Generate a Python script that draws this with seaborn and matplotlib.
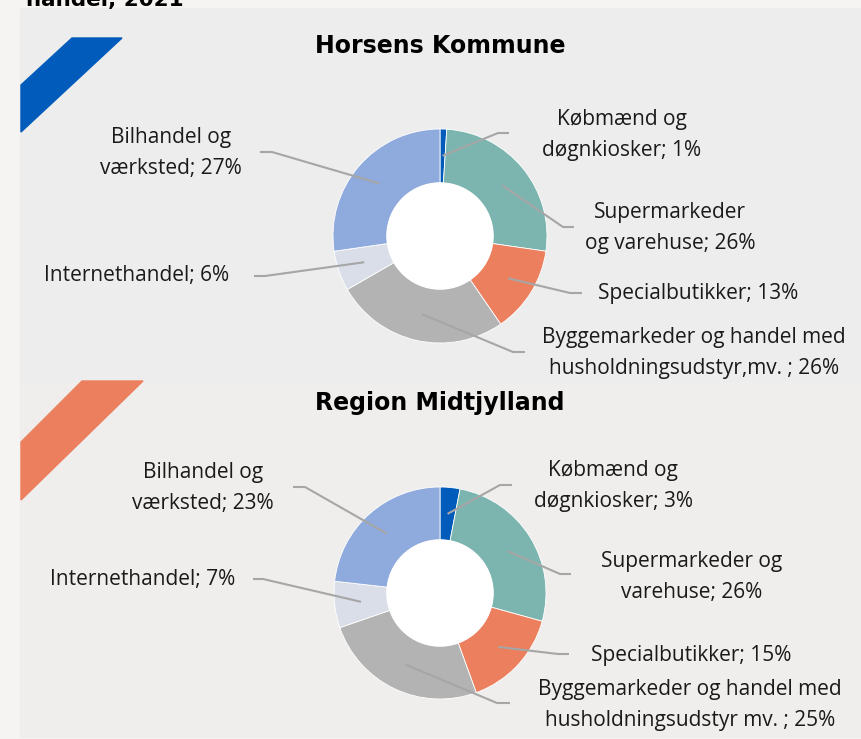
import numpy as np
import matplotlib
matplotlib.use("Agg")
import matplotlib.pyplot as plt
import matplotlib.patches as mpatches
import seaborn as sns

# data
segments = ["Købmænd og døgnkiosker", "Supermarkeder og varehuse", "Specialbutikker",
            "Byggemarkeder og handel med husholdningsudstyr mv.", "Internethandel",
            "Bilhandel og værksted"]
horsens = [1, 26, 13, 26, 6, 27]
region = [3, 26, 15, 25, 7, 23]
horsens_fmt = ["Købmænd og\ndøgnkiosker; {}%", "Supermarkeder\nog varehuse; {}%",
               "Specialbutikker; {}%", "Byggemarkeder og handel med\nhusholdningsudstyr,mv. ; {}%",
               "Internethandel; {}%", "Bilhandel og\nværksted; {}%"]
region_fmt = ["Købmænd og\ndøgnkiosker; {}%", "Supermarkeder og\nvarehuse; {}%",
              "Specialbutikker; {}%", "Byggemarkeder og handel med\nhusholdningsudstyr mv. ; {}%",
              "Internethandel; {}%", "Bilhandel og\nværksted; {}%"]
titles = ["Horsens Kommune", "Region Midtjylland"]

colors = sns.color_palette(["#005bbb", "#7cb5b0", "#eb7f5e", "#b3b3b3", "#d9dee8", "#8faadc"])

# layout in pixels (top-left origin)
W, H = 861, 739
centers = [(440, 236), (440, 593)]
radii = [107, 106]
# label centre, elbow, line end for each slice
horsens_lay = [((622, 135), (498, 133), (509, 133)),
               ((670, 228), (563, 227), (574, 227)),
               ((698, 294), (570, 293), (582, 293)),
               ((694, 353), (513, 352), (525, 352)),
               ((137, 276), (265, 276), (254, 276)),
               ((171, 153), (272, 152), (260, 152))]
region_lay = [((613, 486), (500, 485), (512, 485)),
              ((692, 577), (560, 574), (571, 574)),
              ((691, 655), (558, 654), (569, 654)),
              ((690, 705), (497, 703), (510, 703)),
              ((143, 580), (263, 579), (253, 579)),
              ((203, 488), (305, 487), (293, 487))]

sns.set_theme(style="white")
plt.rcParams['font.family'] = ['Open Sans', 'DejaVu Sans']

fig = plt.figure(figsize=(W / 100, H / 100), dpi=100, facecolor="#f5f4f2")
ax = fig.add_axes([0, 0, 1, 1])
ax.set_facecolor("#f5f4f2")


def Y(y):
    return H - y


# panels and stripes
ax.add_patch(mpatches.Rectangle((20, Y(382)), W - 20, 374, color="#ededed", zorder=0))
ax.add_patch(mpatches.Rectangle((20, Y(737)), W - 20, 355, color="#efeeec", zorder=0))
ax.add_patch(mpatches.Polygon([(21, Y(85)), (72, Y(38)), (122, Y(38)), (21, Y(132))],
                              color="#005bbb", zorder=1))
ax.add_patch(mpatches.Polygon([(21, Y(442)), (82, Y(381)), (143, Y(381)), (21, Y(500))],
                              color="#eb7f5e", zorder=1))

ax.text(26, Y(6), "handel, 2021", fontsize=15.5, fontweight="bold", family="DejaVu Sans",
        ha="left", va="baseline", color="black")

panels = [(horsens, horsens_fmt, horsens_lay), (region, region_fmt, region_lay)]
for i, (vals, fmts, lay) in enumerate(panels):
    cx, cy = centers[i]
    r = radii[i]
    wedges, _ = ax.pie(vals, colors=colors, startangle=90, counterclock=False,
                       center=(cx, Y(cy)), radius=r,
                       wedgeprops=dict(width=r - 53, edgecolor="white", linewidth=0.6))
    ax.add_patch(mpatches.Circle((cx, Y(cy)), 53, color="white", zorder=3))
    ax.text(cx, Y(centers[i][1] - 190), titles[i], fontsize=17, fontweight="bold",
            family="DejaVu Sans", ha="center", va="center", color="black")
    for w, v, f, (lab, elb, end) in zip(wedges, vals, fmts, lay):
        mid = np.deg2rad((w.theta1 + w.theta2) / 2)
        sx = cx + 0.75 * r * np.cos(mid)
        sy = Y(cy) + 0.75 * r * np.sin(mid)
        ax.plot([sx, elb[0], end[0]], [sy, Y(elb[1]), Y(end[1])],
                color="#a6a6a6", lw=1.5, zorder=4, solid_capstyle="butt")
        ax.text(lab[0], Y(lab[1]), f.format(v), fontsize=15, ha="center", va="center",
                color="#1a1a1a", linespacing=1.58)

ax.set_xlim(0, W)
ax.set_ylim(0, H)
ax.set_aspect("equal")
ax.axis("off")

fig.savefig("out.png", dpi=100, facecolor=fig.get_facecolor())
